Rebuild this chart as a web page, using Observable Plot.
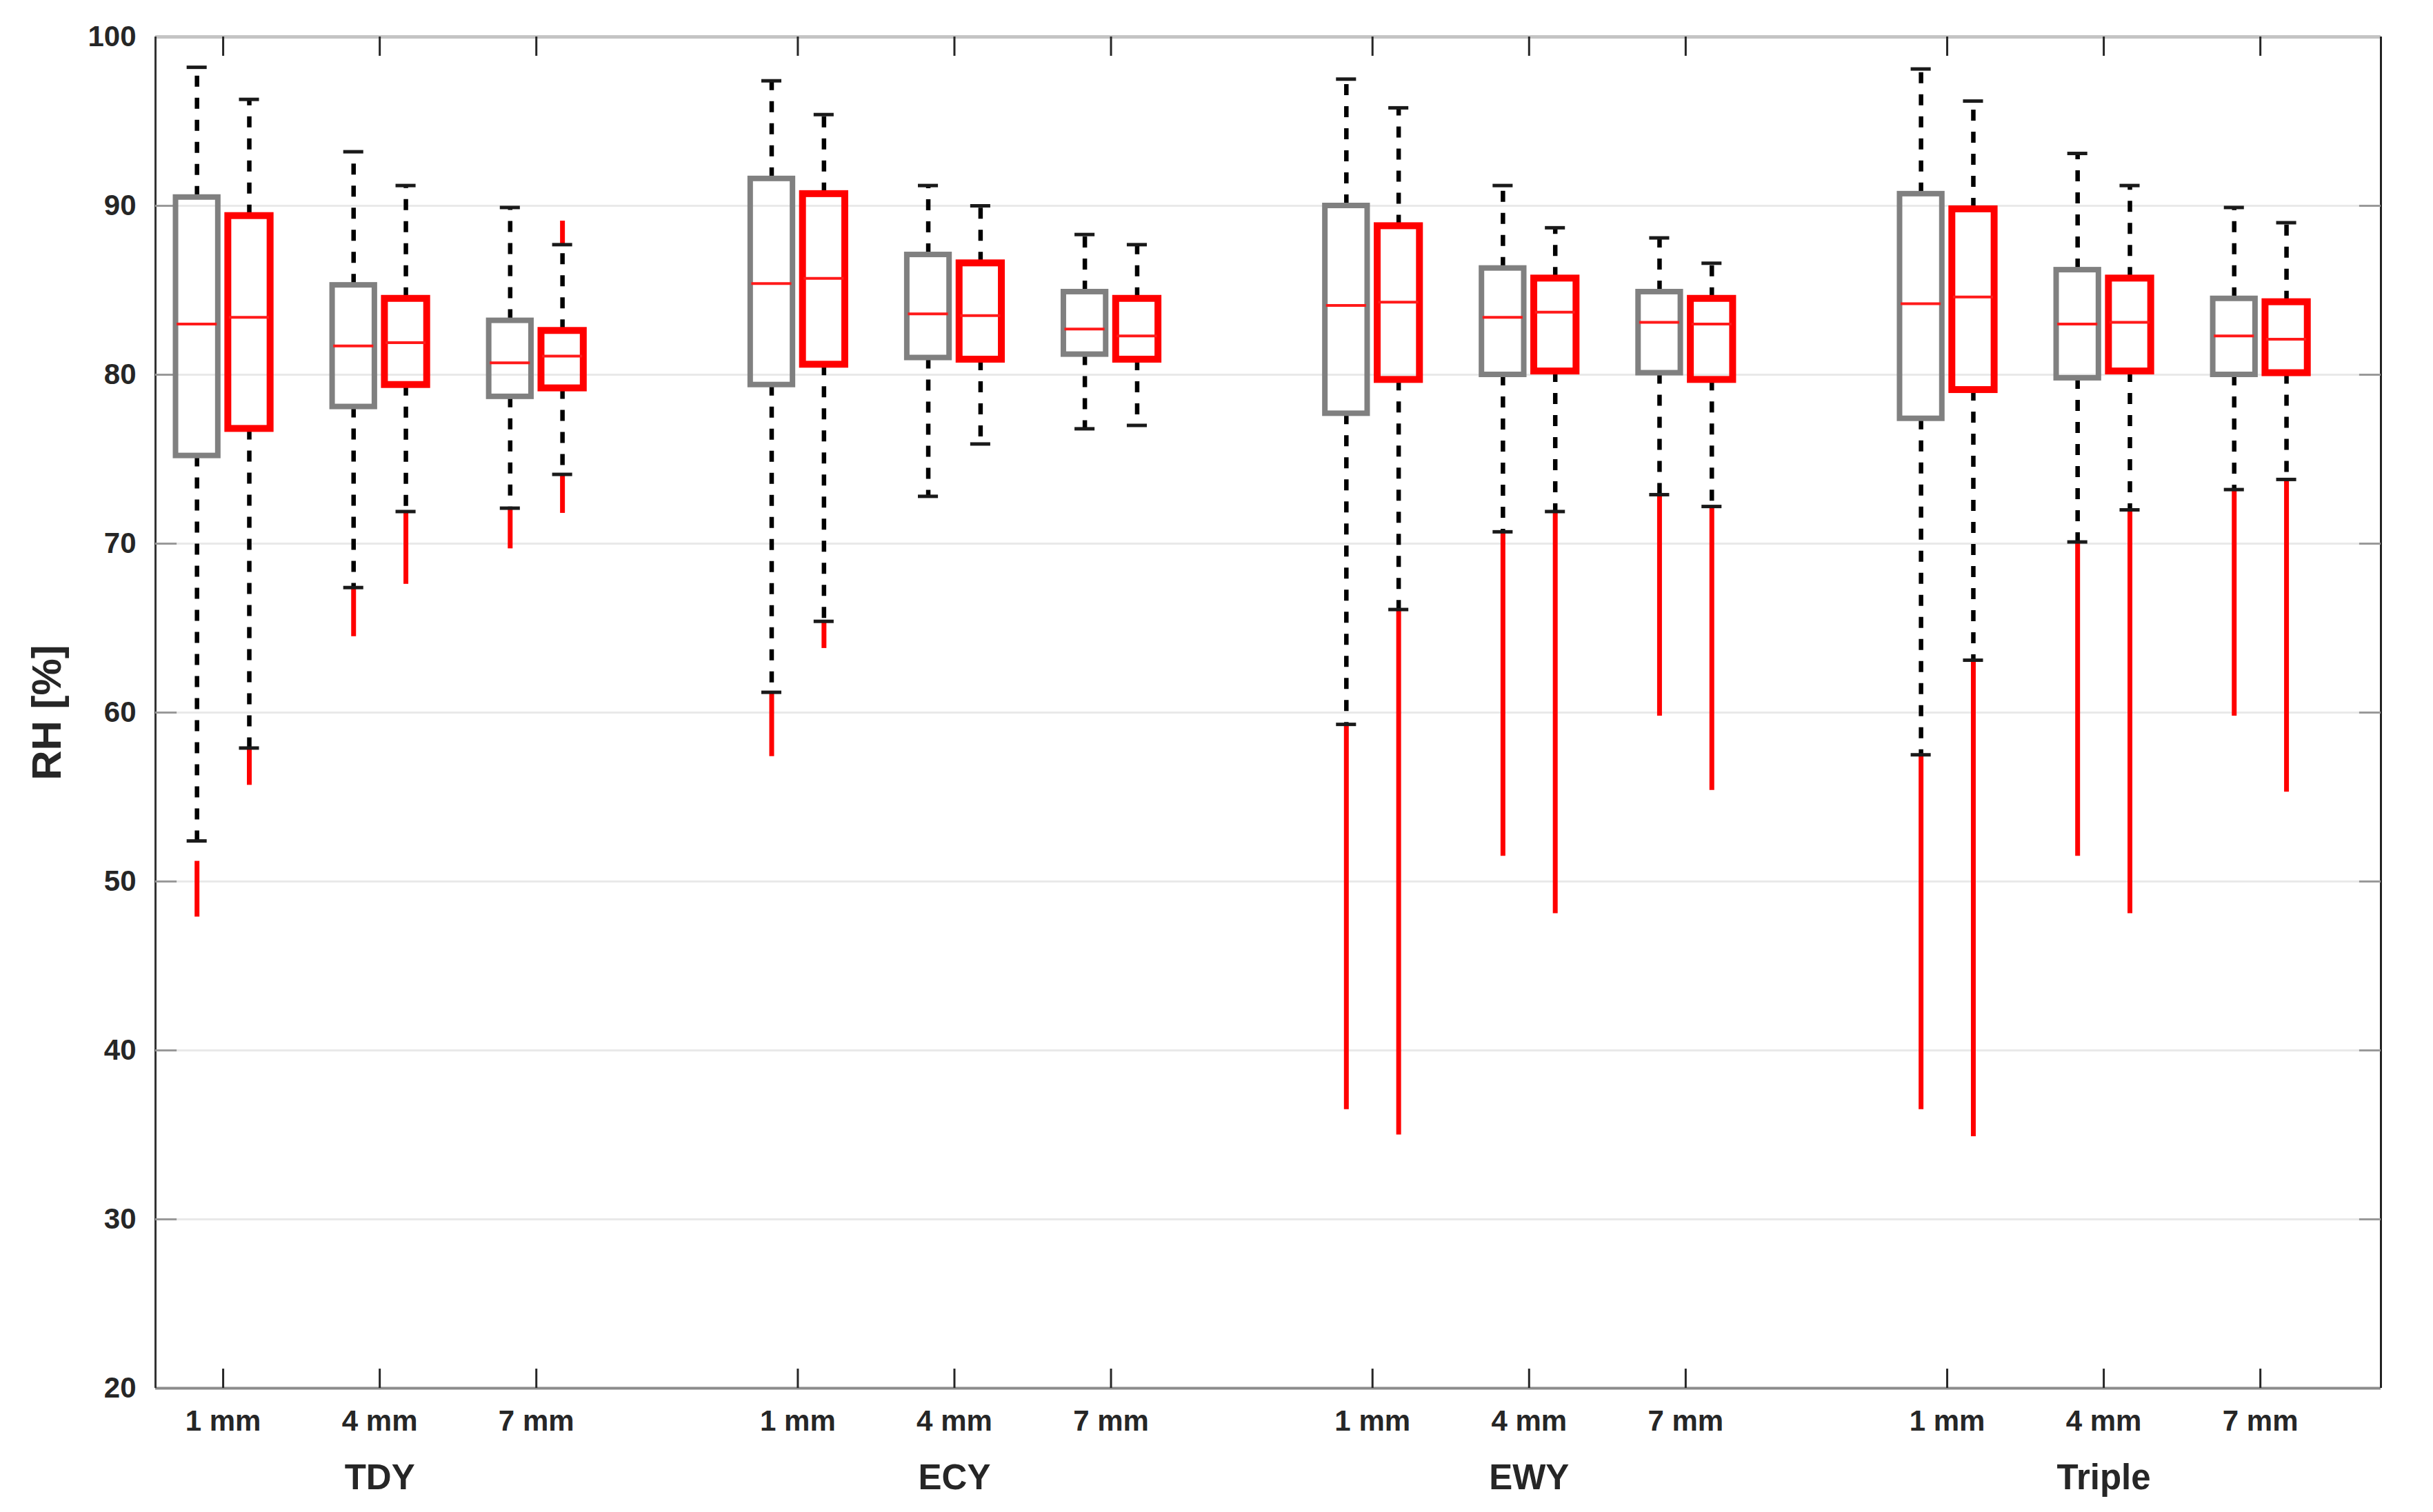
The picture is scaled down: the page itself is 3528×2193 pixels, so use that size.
<!DOCTYPE html>
<html>
<head>
<meta charset="utf-8">
<script src="https://cdn.jsdelivr.net/npm/d3@7"></script>
<script src="https://cdn.jsdelivr.net/npm/@observablehq/plot@0.6"></script>
<style>
  html, body { margin: 0; padding: 0; background: #fff; overflow: hidden; }
  #chart svg { display: block; }
</style>
</head>
<body>
<div id="chart"></div>
<script>
// ---------- data (order: group -> depth -> series [gray, red]) ----------
const groups = ["TDY", "ECY", "EWY", "Triple"];
const depths = ["1 mm", "4 mm", "7 mm"];
const seriesNames = ["Series 1", "Series 2"];
const yTicks = [20, 30, 40, 50, 60, 70, 80, 90, 100];

const whiskerHigh = [
  98.2, 96.3, 93.2, 91.2, 89.9, 87.7,   // TDY
  97.4, 95.4, 91.2, 90.0, 88.3, 87.7,   // ECY
  97.5, 95.8, 91.2, 88.7, 88.1, 86.6,   // EWY
  98.1, 96.2, 93.1, 91.2, 89.9, 89.0    // Triple
];
const q3 = [
  90.5, 89.4, 85.3, 84.5, 83.2, 82.6,
  91.6, 90.7, 87.1, 86.6, 84.9, 84.5,
  90.0, 88.8, 86.3, 85.7, 84.9, 84.5,
  90.7, 89.8, 86.2, 85.7, 84.5, 84.3
];
const median = [
  83.0, 83.4, 81.7, 81.9, 80.7, 81.1,
  85.4, 85.7, 83.6, 83.5, 82.7, 82.3,
  84.1, 84.3, 83.4, 83.7, 83.1, 83.0,
  84.2, 84.6, 83.0, 83.1, 82.3, 82.1
];
const q1 = [
  75.2, 76.8, 78.1, 79.4, 78.7, 79.2,
  79.4, 80.6, 81.0, 80.9, 81.2, 80.9,
  77.7, 79.7, 80.0, 80.2, 80.1, 79.7,
  77.4, 79.1, 79.8, 80.2, 80.0, 80.1
];
const whiskerLow = [
  52.4, 57.9, 67.4, 71.9, 72.1, 74.1,
  61.2, 65.4, 72.8, 75.9, 76.8, 77.0,
  59.3, 66.1, 70.7, 71.9, 72.9, 72.2,
  57.5, 63.1, 70.1, 72.0, 73.2, 73.8
];
// low outliers: range [lowOutlierMin, lowOutlierMax]
const lowOutlierMax = [
  51.2, 57.9, 67.4, 71.9, 72.1, 74.1,
  61.2, 65.4, null, null, null, null,
  59.3, 66.1, 70.7, 71.9, 72.9, 72.2,
  57.5, 63.1, 70.1, 72.0, 73.2, 73.8
];
const lowOutlierMin = [
  47.9, 55.7, 64.5, 67.6, 69.7, 71.8,
  57.4, 63.8, null, null, null, null,
  36.5, 35.0, 51.5, 48.1, 59.8, 55.4,
  36.5, 34.9, 51.5, 48.1, 59.8, 55.3
];
// high outliers: range [whiskerHigh, highOutlierMax]
const highOutlierMax = [
  null, null, null, null, null, 89.1,
  null, null, null, null, null, null,
  null, null, null, null, null, null,
  null, null, null, null, null, null
];

// ---------- layout constants ----------
const groupStep = 3.67;       // distance between groups, in depth-tick units
const seriesOffset = 0.167;   // box centre offset from depth tick
const boxHalf = 0.135;
const capHalf = 0.064;
const medHalf = 0.128;
const xMin = -0.432, xMax = 13.78;
const yMin = 20, yMax = 100;
const colors = ["#808080", "#ff0000"];
const fontFamily = "'Liberation Sans', Arial, Helvetica, sans-serif";

// ---------- build rows ----------
const rows = [];
const tickRows = [];
groups.forEach((g, gi) => {
  depths.forEach((d, di) => {
    const base = gi * groupStep + di;
    tickRows.push({group: g, depth: d, p: base, mid: di === 1});
    seriesNames.forEach((s, si) => {
      const k = gi * 6 + di * 2 + si;
      rows.push({
        group: g, depth: d, series: s,
        p: base + (si === 0 ? -seriesOffset : seriesOffset),
        wh: whiskerHigh[k], q3: q3[k], med: median[k], q1: q1[k], wl: whiskerLow[k],
        loMax: lowOutlierMax[k], loMin: lowOutlierMin[k], hiMax: highOutlierMax[k]
      });
    });
  });
});
const groupRows = tickRows.filter(t => t.mid);
const innerTicks = yTicks.filter(t => t > yMin && t < yMax);

const chart = Plot.plot({
  width: 3528,
  height: 2193,
  marginLeft: 225,
  marginRight: 76,
  marginTop: 53,
  marginBottom: 180,
  style: {background: "#fff"},
  x: {domain: [xMin, xMax], axis: null},
  y: {domain: [yMin, yMax], axis: null},
  color: {domain: seriesNames, range: colors},
  marks: [
    // grid
    Plot.ruleY(innerTicks, {stroke: "#e9e9e9", strokeWidth: 3}),
    // frame
    Plot.ruleY([yMax], {stroke: "#c4c4c4", strokeWidth: 5}),
    Plot.ruleY([yMin], {stroke: "#8c8c8c", strokeWidth: 4}),
    Plot.ruleX([xMin], {stroke: "#333", strokeWidth: 3}),
    Plot.ruleX([xMax], {stroke: "#222", strokeWidth: 3}),
    // y ticks (inward, both sides)
    Plot.ruleY(innerTicks, {x1: xMin, x2: xMin + 0.137, stroke: "#999", strokeWidth: 3}),
    Plot.ruleY(innerTicks, {x1: xMax - 0.137, x2: xMax, stroke: "#999", strokeWidth: 3}),
    // x ticks (inward, bottom and top)
    Plot.ruleX(tickRows, {x: "p", y1: yMin, y2: yMin + 1.14, stroke: "#262626", strokeWidth: 3}),
    Plot.ruleX(tickRows, {x: "p", y1: yMax, y2: yMax - 1.14, stroke: "#262626", strokeWidth: 3}),
    // outliers
    Plot.ruleX(rows.filter(r => r.loMin != null), {x: "p", y1: "loMax", y2: "loMin", stroke: "#ff0000", strokeWidth: 7}),
    Plot.ruleX(rows.filter(r => r.hiMax != null), {x: "p", y1: "wh", y2: "hiMax", stroke: "#ff0000", strokeWidth: 7}),
    // whiskers
    Plot.ruleX(rows, {x: "p", y1: "q3", y2: "wh", stroke: "#000", strokeWidth: 6.5, strokeDasharray: "16,16"}),
    Plot.ruleX(rows, {x: "p", y1: "q1", y2: "wl", stroke: "#000", strokeWidth: 6.5, strokeDasharray: "16,16"}),
    // caps
    Plot.ruleY(rows, {y: "wh", x1: r => r.p - capHalf, x2: r => r.p + capHalf, stroke: "#1a1a1a", strokeWidth: 5}),
    Plot.ruleY(rows, {y: "wl", x1: r => r.p - capHalf, x2: r => r.p + capHalf, stroke: "#1a1a1a", strokeWidth: 5}),
    // boxes
    Plot.rect(rows, {
      x1: r => r.p - boxHalf, x2: r => r.p + boxHalf, y1: "q1", y2: "q3",
      fill: "none", stroke: "series",
      strokeWidth: r => r.series === seriesNames[0] ? 8 : 10
    }),
    // medians
    Plot.ruleY(rows, {y: "med", x1: r => r.p - medHalf, x2: r => r.p + medHalf, stroke: "#ff1a1a", strokeWidth: 4}),
    // y tick labels
    Plot.text(yTicks, {
      x: () => xMin, y: d => d, text: d => String(d), textAnchor: "end", dx: -28,
      fontSize: 42, fontWeight: "bold", fontFamily, fill: "#262626"
    }),
    // x tick labels
    Plot.text(tickRows, {
      x: "p", y: () => yMin, text: "depth", dy: 48,
      fontSize: 42, fontWeight: "bold", fontFamily, fill: "#262626"
    }),
    // group labels
    Plot.text(groupRows, {
      x: "p", y: () => yMin, text: "group", dy: 130,
      fontSize: 51, fontWeight: "bold", fontFamily, fill: "#262626"
    }),
    // y axis title
    Plot.text(["RH [%]"], {
      frameAnchor: "left", textAnchor: "middle", dx: -157, rotate: -90,
      fontSize: 60, fontWeight: "bold", fontFamily, fill: "#262626"
    })
  ]
});
document.getElementById("chart").appendChild(chart);
</script>
</body>
</html>
